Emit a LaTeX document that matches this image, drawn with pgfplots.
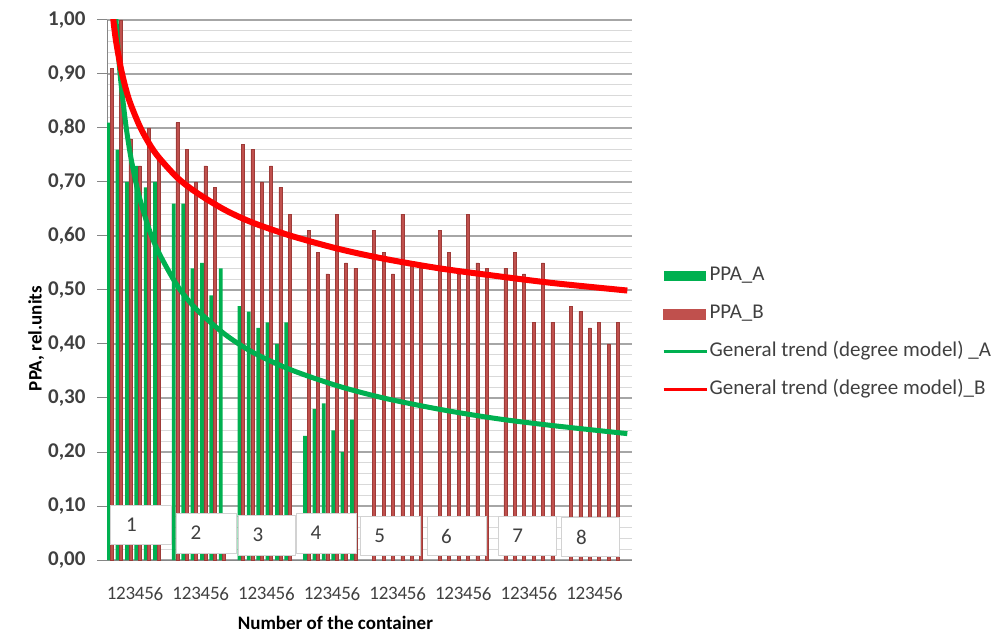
\documentclass[border=0pt]{standalone}
\usepackage{fontspec}
\setmainfont{Carlito}
\usepackage{pgfplots}
\pgfplotsset{compat=1.18}
\definecolor{ga}{HTML}{00B050}
\definecolor{rb}{HTML}{C0504D}
\definecolor{rbd}{HTML}{9E3B38}
\definecolor{tr}{HTML}{FF0000}
\definecolor{gridmaj}{HTML}{A6A6A6}
\definecolor{gridmin}{HTML}{D9D9D9}
\definecolor{txt}{HTML}{404040}
\definecolor{axc}{HTML}{868686}
\begin{document}
\begin{tikzpicture}[x=1pt,y=1pt]
\path[use as bounding box] (0,0) rectangle (995,637);
\begin{axis}[
  at={(107pt,77pt)}, anchor=south west,
  scale only axis, width=525pt, height=540pt,
  xmin=-0.5, xmax=55.5, ymin=0, ymax=1,
  axis lines*=left,
  axis line style={draw=axc, line width=1pt},
  ytick={0,0.1,0.2,0.3,0.4,0.5,0.6,0.7,0.8,0.9,1.0},
  minor y tick num=4,
  ymajorgrids, yminorgrids,
  major grid style={draw=gridmaj, line width=1.2pt},
  minor grid style={draw=gridmin, line width=1pt},
  tick align=outside,
  major tick length=10pt, minor tick length=0pt,
  ytick style={draw=axc, line width=1pt},
  yticklabel style={font=\fontsize{21}{24}\selectfont\bfseries, text=txt, xshift=-8pt},
  yticklabel={\pgfmathprintnumber[fixed,fixed zerofill,precision=2,use comma,assume math mode=true]{\tick}},
  xtick={0,...,55},
  xticklabels={1,2,3,4,5,6,{},1,2,3,4,5,6,{},1,2,3,4,5,6,{},1,2,3,4,5,6,{},1,2,3,4,5,6,{},1,2,3,4,5,6,{},1,2,3,4,5,6,{},1,2,3,4,5,6,{}},
  xtick style={draw=none},
  xticklabel style={font=\fontsize{19}{22}\selectfont, text=txt, yshift=-17pt, inner sep=0pt},
  xlabel={Number of the container},
  xlabel style={font=\fontsize{19}{22}\selectfont\bfseries, at={(axis description cs:0.435,-0.117)}, anchor=center},
  ylabel={PPA, rel.units},
  ylabel style={font=\fontsize{19}{22}\selectfont\bfseries, at={(axis description cs:-0.135,0.41)}, anchor=center},
  legend style={at={(axis description cs:1.057,0.546)}, anchor=north west, draw=none, fill=none,
    font=\fontsize{21}{24}\selectfont, text=txt, row sep=17pt, inner sep=0pt,
    nodes={inner sep=1.5pt, text height=14pt, text depth=4pt}},
  legend cell align=left,
  clip=true,
]
% PPA_A
\addplot[ybar, bar width=3.8pt, bar shift=-3.5pt, fill=ga, draw=none,
  legend image code/.code={\fill[ga] (0pt,-5pt) rectangle (42pt,5pt);}]
coordinates {
(0,0.81) (1,0.76) (2,0.70) (3,0.73) (4,0.69) (5,0.70)
(7,0.66) (8,0.66) (9,0.54) (10,0.55) (11,0.49) (12,0.54)
(14,0.47) (15,0.46) (16,0.43) (17,0.44) (18,0.40) (19,0.44)
(21,0.23) (22,0.28) (23,0.29) (24,0.24) (25,0.20) (26,0.26)
};
\addlegendentry{PPA\_A}
% PPA_B
\addplot[ybar, bar width=3pt, bar shift=0pt, fill=rb, draw=rbd, line width=0.5pt,
  legend image code/.code={\fill[rb] (0pt,-5pt) rectangle (42pt,5pt);}]
coordinates {
(0,0.91) (1,1.00) (2,0.78) (3,0.73) (4,0.80) (5,0.74)
(7,0.81) (8,0.76) (9,0.70) (10,0.73) (11,0.69) (12,0.05)
(14,0.77) (15,0.76) (16,0.70) (17,0.73) (18,0.69) (19,0.64)
(21,0.61) (22,0.57) (23,0.53) (24,0.64) (25,0.55) (26,0.54)
(28,0.61) (29,0.57) (30,0.53) (31,0.64) (32,0.55) (33,0.54)
(35,0.61) (36,0.57) (37,0.53) (38,0.64) (39,0.55) (40,0.54)
(42,0.54) (43,0.57) (44,0.53) (45,0.44) (46,0.55) (47,0.44)
(49,0.47) (50,0.46) (51,0.43) (52,0.44) (53,0.40) (54,0.44)
};
\addlegendentry{PPA\_B}
% trend A
\addplot[ga, line width=5pt, smooth, no marks,
  legend image code/.code={\draw[ga, line width=3pt] (0pt,0pt) -- (43pt,0pt);}]
coordinates {
(0,1.162) (0.25,1.063) (0.5,0.989) (0.75,0.930) (1,0.882) (1.5,0.807) (2,0.750)
(2.5,0.706) (3,0.669) (4,0.612) (5,0.570) (7,0.508) (9,0.465) (12,0.419)
(15,0.385) (19,0.353) (24,0.323) (29,0.300) (35,0.279) (41,0.262) (47,0.249) (55,0.234)
};
\addlegendentry{General trend (degree model) \_A}
% trend B
\addplot[tr, line width=6pt, smooth, no marks,
  legend image code/.code={\draw[tr, line width=3pt] (0pt,0pt) -- (43pt,0pt);}]
coordinates {
(0,1.030) (0.25,0.989) (0.5,0.957) (1,0.909) (1.5,0.873) (2,0.845) (3,0.803)
(4,0.771) (5,0.746) (7,0.708) (9,0.681) (12,0.649) (15,0.625) (19,0.601)
(24,0.577) (29,0.558) (35,0.540) (41,0.526) (47,0.513) (55,0.499)
};
\addlegendentry{General trend (degree model)\_B}
% container boxes
\draw[fill=white, draw=gray!35, line width=0.8pt] (axis cs:-0.15,0.028) rectangle (axis cs:6.33,0.102);
\draw[fill=white, draw=gray!35, line width=0.8pt] (axis cs:6.9,0.012) rectangle (axis cs:13.3,0.087);
\draw[fill=white, draw=gray!35, line width=0.8pt] (axis cs:13.5,0.009) rectangle (axis cs:19.57,0.083);
\draw[fill=white, draw=gray!35, line width=0.8pt] (axis cs:19.69,0.013) rectangle (axis cs:26.1,0.087);
\draw[fill=white, draw=gray!35, line width=0.8pt] (axis cs:26.57,0.009) rectangle (axis cs:32.9,0.080);
\draw[fill=white, draw=gray!35, line width=0.8pt] (axis cs:33.68,0.009) rectangle (axis cs:39.97,0.080);
\draw[fill=white, draw=gray!35, line width=0.8pt] (axis cs:41.3,0.009) rectangle (axis cs:47.4,0.080);
\draw[fill=white, draw=gray!35, line width=0.8pt] (axis cs:48.0,0.006) rectangle (axis cs:54.2,0.078);
\node[font=\fontsize{21}{24}\selectfont, text=txt] at (axis cs:2.1,0.065) {1};
\node[font=\fontsize{21}{24}\selectfont, text=txt] at (axis cs:9.0,0.050) {2};
\node[font=\fontsize{21}{24}\selectfont, text=txt] at (axis cs:15.6,0.046) {3};
\node[font=\fontsize{21}{24}\selectfont, text=txt] at (axis cs:21.8,0.050) {4};
\node[font=\fontsize{21}{24}\selectfont, text=txt] at (axis cs:28.6,0.044) {5};
\node[font=\fontsize{21}{24}\selectfont, text=txt] at (axis cs:35.7,0.044) {6};
\node[font=\fontsize{21}{24}\selectfont, text=txt] at (axis cs:43.3,0.044) {7};
\node[font=\fontsize{21}{24}\selectfont, text=txt] at (axis cs:50.1,0.042) {8};
\end{axis}
\end{tikzpicture}
\end{document}
